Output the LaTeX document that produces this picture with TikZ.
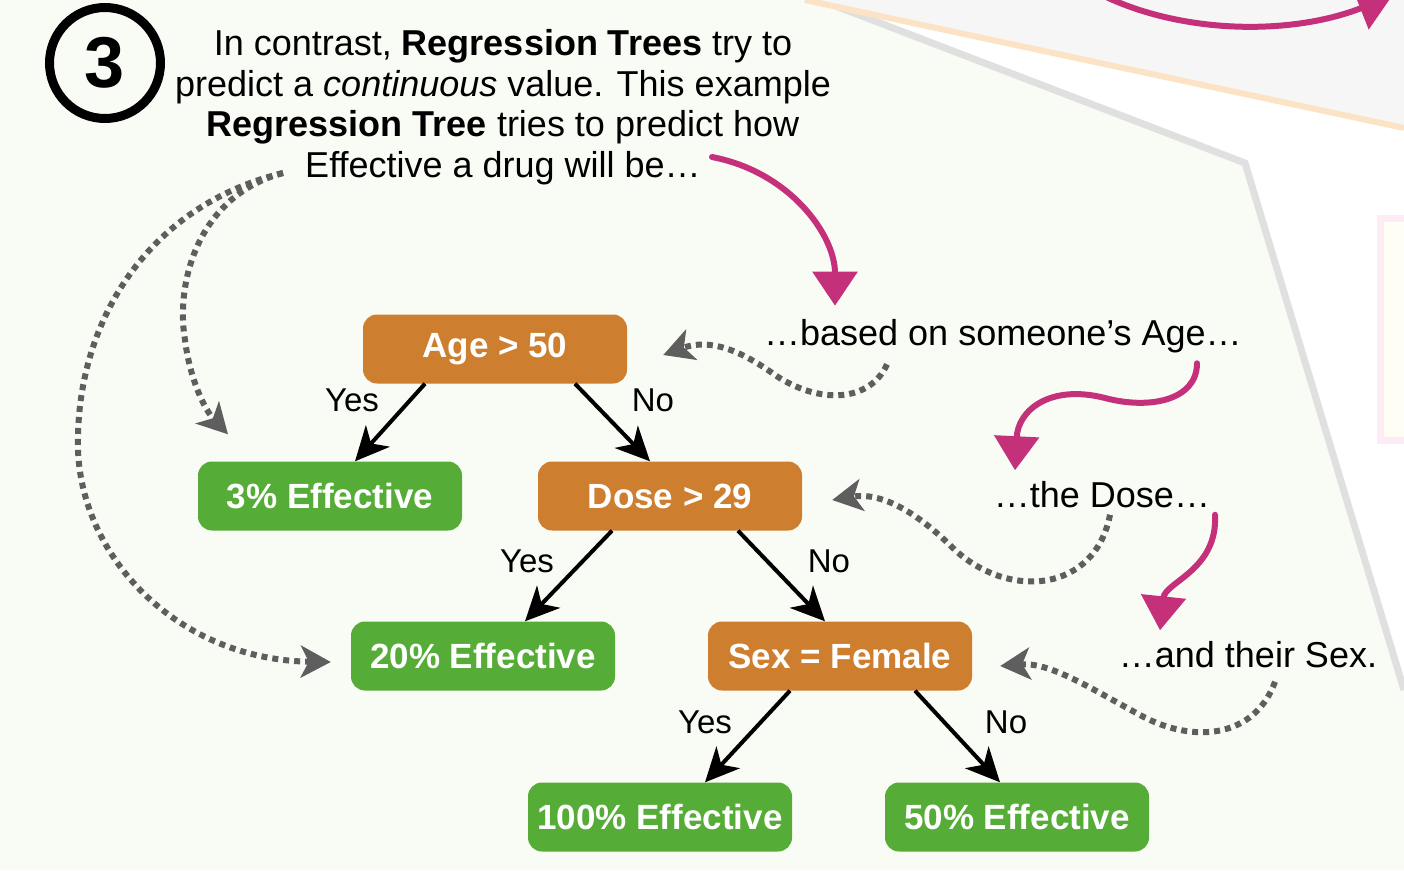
\documentclass[tikz,border=0pt]{standalone}
\usepackage{fontspec}
\setmainfont{Liberation Sans}
\usepackage{xcolor}
\usetikzlibrary{arrows.meta, positioning, calc}
\definecolor{oranye}{HTML}{CD7E2F}
\definecolor{hijau}{HTML}{55AC36}
\definecolor{merahmuda}{HTML}{C4317A}
\definecolor{abu}{HTML}{5E5E5E}
\definecolor{latar}{HTML}{F9FBF5}
\definecolor{garisabu}{HTML}{E0E0E0}
\definecolor{garisoranye}{HTML}{FCE3C6}

\begin{document}
\begin{tikzpicture}[
    x=1pt, y=-1pt,
    keputusan/.style={fill=oranye, rounded corners=14pt, minimum width=264pt,
                      minimum height=69pt, text=white,
                      font=\fontsize{35}{40}\selectfont\bfseries},
    daun/.style={keputusan, fill=hijau},
    jawab/.style={font=\fontsize{33}{40}\selectfont},
    ket/.style={font=\fontsize{36}{40.5}\selectfont},
    cabang/.style={line width=4pt, -{Stealth[length=34pt, width=32pt, inset=10pt]}},
    titik/.style={abu, line width=6pt, dash pattern=on 6pt off 5pt,
                  -{Stealth[length=30pt, width=32pt, inset=8pt]}},
    petunjuk/.style={merahmuda, line width=6pt, line cap=round,
                     -{Triangle[length=34pt, width=44pt]}}
  ]
    \useasboundingbox (0,0) rectangle (1404,870);
    \clip (0,0) rectangle (1404,870);
    % Latar: panel hijau muda, tepi miring di kanan atas.
    \fill[white] (0,0) rectangle (1404,870);
    \fill[latar] (0,0) -- (820,0) -- (1245,163) -- (1404,690) -- (1404,870)
      -- (0,870) -- cycle;
    \draw[garisabu, line width=7pt] (820,0) -- (1245,163) -- (1404,690);
    \fill[black!3.5] (805,0) -- (1404,0) -- (1404,128) -- cycle;
    \draw[garisoranye, line width=6pt] (805,0) -- (1404,128);
    \draw[magenta!8, line width=7pt, fill=yellow!4] (1380,218) rectangle (1440,440);
    \draw[petunjuk] (1100,-6) .. controls (1180,34) and (1290,36) .. (1392,-4);

    \node[circle, draw, line width=9pt, minimum size=111pt,
          font=\fontsize{72}{72}\selectfont\bfseries] (nomor) at (105,63) {3};
    \node[ket, align=center] (pengantar) at (503,107)
      {In contrast, \textbf{Regression Trees} try to\\
       predict a \textit{continuous} value. This example\\
       \textbf{Regression Tree} tries to predict how\\
       Effective a drug will be…};

    % Pohon regresi
    \node[keputusan] (umur)      at (495,349)  {Age > 50};
    \node[daun]      (tiga)      at (330,496)  {3\% Effective};
    \node[keputusan] (dosis)     at (670,496)  {Dose > 29};
    \node[daun]      (duapuluh)  at (483,656)  {20\% Effective};
    \node[keputusan] (kelamin)   at (840,656)  {Sex = Female};
    \node[daun]      (seratus)   at (660,817)  {100\% Effective};
    \node[daun]      (limapuluh) at (1017,817) {50\% Effective};

    \draw[cabang] ([xshift=-70pt]umur.south)    -- ([xshift=25pt]tiga.north);
    \draw[cabang] ([xshift=80pt]umur.south)     -- ([xshift=-20pt]dosis.north);
    \draw[cabang] ([xshift=-58pt]dosis.south)   -- ([xshift=42pt]duapuluh.north);
    \draw[cabang] ([xshift=68pt]dosis.south)    -- ([xshift=-15pt]kelamin.north);
    \draw[cabang] ([xshift=-50pt]kelamin.south) -- ([xshift=45pt]seratus.north);
    \draw[cabang] ([xshift=75pt]kelamin.south)  -- ([xshift=-17pt]limapuluh.north);

    \node[jawab] (ya1)    at (352,400)  {Yes};
    \node[jawab] (tidak1) at (653,400)  {No};
    \node[jawab] (ya2)    at (527,561)  {Yes};
    \node[jawab] (tidak2) at (829,561)  {No};
    \node[jawab] (ya3)    at (705,722)  {Yes};
    \node[jawab] (tidak3) at (1006,722) {No};

    % Catatan di kanan
    \node[ket] (catUmur)    at (1003,336) {…based on someone’s Age…};
    \node[ket] (catDosis)   at (1102,495) {…the Dose…};
    \node[ket] (catKelamin) at (1248,655) {…and their Sex.};

    \coordinate (asal) at (283,173);
    \coordinate (awalMerah) at (712,157);
    \draw[petunjuk] (awalMerah) .. controls (790,172) and (835,235)
      .. ([xshift=-168pt, yshift=10pt]catUmur.north);
    \draw[petunjuk] ([xshift=194pt, yshift=-7pt]catUmur.south)
      .. controls (1197,400) and (1150,410) .. (1105,398)
      .. controls (1050,384) and (1018,410) .. ([xshift=-87pt, yshift=8pt]catDosis.north);
    \draw[petunjuk] ([xshift=113pt, yshift=-3pt]catDosis.south)
      .. controls (1218,570) and (1165,582) .. ([xshift=-88pt, yshift=8pt]catKelamin.north);

    \draw[titik] ([xshift=-116pt, yshift=-8pt]catUmur.south)
      .. controls (870,402) and (820,405) .. (775,375)
      .. controls (740,350) and (710,338) .. ([xshift=36pt, yshift=-6pt]umur.east);
    \draw[titik] ([xshift=8pt, yshift=-3pt]catDosis.south)
      .. controls (1095,592) and (1010,600) .. (955,550)
      .. controls (915,510) and (880,492) .. ([xshift=30pt, yshift=-4pt]dosis.east);
    \draw[titik] ([xshift=27pt, yshift=-10pt]catKelamin.south)
      .. controls (1255,737) and (1195,745) .. (1140,715)
      .. controls (1090,688) and (1050,662) .. ([xshift=28pt, yshift=-10pt]kelamin.east);
    \draw[titik] (asal) .. controls (200,195) and (175,280) .. (185,340)
      .. controls (190,380) and (205,410) .. ([xshift=-102pt, yshift=27pt]tiga.north);
    \draw[titik] (asal) .. controls (150,205) and (75,320) .. (78,450)
      .. controls (82,560) and (180,660) .. ([xshift=-20pt, yshift=-6pt]duapuluh.west);
  \end{tikzpicture}
\end{document}
